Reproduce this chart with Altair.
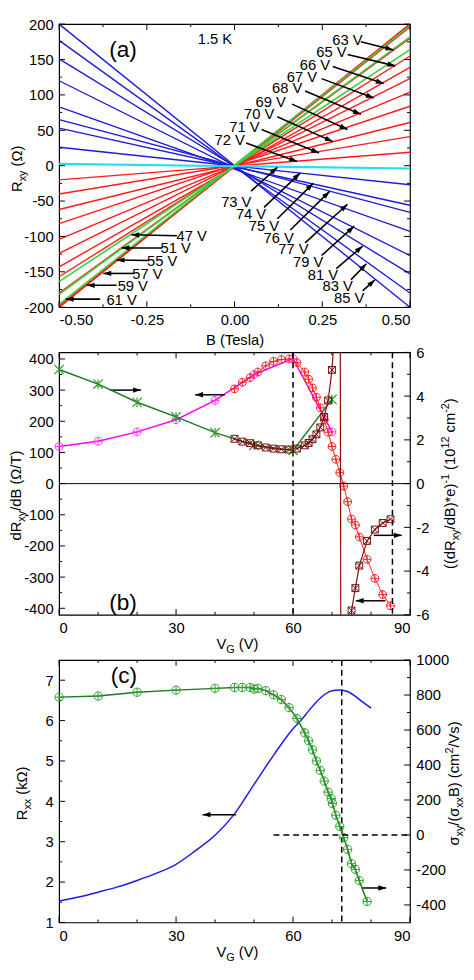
import math
import altair as alt
import pandas as pd

FONT = "Liberation Sans"
FS = 15
SM = 11
W = 357
HA, HB, HC = 288, 267, 267
SP = 46
TMAJ, TMIN = 6, 3
MINUS = "replace(datum.label, '\u2212', '-')"
ONE = pd.DataFrame({"k": [0]})

# ================= panel (a) data =================
a_volts = [47, 51, 55, 57, 59, 61, 63, 65, 66, 67, 68, 69, 70, 71, 72, 73, 74, 75, 76, 77, 79, 81, 83, 85]
a_kind = ["g", "g", "g", "r", "r", "r", "r", "r", "r", "r", "r", "r", "r", "r", "r",
          "c", "b", "b", "b", "b", "b", "b", "b", "b"]
a_r_neg = [-164, -182, -196, -200, -200, -198, -180, -157, -143, -124, -104, -82, -62, -40, -20,
           2.5, 26, 53, 65, 83, 120, 151, 177, 200]
a_r_pos = [164, 182, 198, 200, 200, 196, 180, 155, 139, 123, 104, 84, 61, 41, 19,
           -4, -27, -56, -66, -93, -127, -153, -180, -200]
a_b_ends = [-0.5, 0.5]

a_lab_text = ["63 V", "65 V", "66 V", "67 V", "68 V", "69 V", "70 V", "71 V", "72 V",
              "73 V", "74 V", "75 V", "76 V", "77 V", "79 V", "81 V", "83 V", "85 V",
              "47 V", "51 V", "55 V", "57 V", "59 V", "61 V"]
a_lab_b = [0.322, 0.276, 0.229, 0.192, 0.150, 0.103, 0.070, 0.028, -0.014,
           0.005, 0.047, 0.084, 0.126, 0.168, 0.210, 0.252, 0.294, 0.327,
           -0.122, -0.168, -0.206, -0.248, -0.290, -0.322]
a_lab_r = [178, 161, 142, 125, 109, 90, 73, 54.5, 36.4,
           -51, -69, -85.5, -102, -118, -136, -154.5, -170.5, -187,
           -100, -117, -135.5, -153.5, -170.5, -189.5]
a_arr_b0 = [0.360, 0.322, 0.280, 0.248, 0.201, 0.164, 0.122, 0.077, 0.033,
            0.047, 0.084, 0.122, 0.159, 0.201, 0.248, 0.290, 0.332, 0.365,
            -0.164, -0.206, -0.243, -0.285, -0.336, -0.383]
a_arr_r0 = [175, 157, 140, 123, 105.5, 87, 69, 51, 32,
            -36, -59, -75, -91, -109, -127, -145.5, -161, -177,
            -99, -116.4, -134, -152.3, -169, -188.6]
a_arr_b1 = [0.453, 0.458, 0.425, 0.397, 0.360, 0.322, 0.280, 0.241, 0.178,
            0.122, 0.187, 0.224, 0.271, 0.322, 0.341, 0.365, 0.376, 0.400,
            -0.294, -0.322, -0.336, -0.374, -0.421, -0.481]
a_arr_r1 = [163.6, 141, 116, 95.5, 72.7, 51, 34, 18, 6,
            -2.3, -10.5, -25, -36.4, -54.5, -85.5, -113.6, -138.6, -161.4,
            -97.7, -116.4, -133.2, -152.3, -169.1, -188.6]

a_xmaj = [-0.5, -0.25, 0, 0.25, 0.5]
a_xmin = [-0.375, -0.125, 0.125, 0.375]
a_ymaj = [-200, -150, -100, -50, 0, 50, 100, 150, 200]
a_ymin = [-175, -125, -75, -25, 25, 75, 125, 175]

# ================= panel (b) data =================
b_mag_v = [0, 10, 20, 30, 40, 50, 60, 70]
b_mag_l = [119, 136, 166, 205, 267, 350, 401, 166]

b_red_v = [45, 47, 49, 51, 53, 55, 57, 59, 61, 63, 64, 65, 66, 67, 68, 69, 70, 71, 72, 73,
           74, 75, 76, 77, 79, 81, 83, 85]
b_red_l = [304, 325, 340, 358, 378, 392, 398, 400, 388, 358, 335, 307, 277, 243, 205, 165, 119, 78, 35, -8,
           -58, -114, -133, -171, -243, -304, -356, -392]

b_sq_v = b_red_v
b_sq_n = [2.05, 1.92, 1.85, 1.75, 1.65, 1.6, 1.57, 1.56, 1.6, 1.75, 1.86, 2.03, 2.25, 2.57, 3.05, 3.8, 5.2,
          8.0, 17.8, -78, -10.8, -5.8, -4.78, -3.75, -2.62, -2.1, -1.8, -1.63]

b_gx_v = [0, 10, 20, 30, 40, 50, 60, 70]
b_gx_n = [5.22, 4.55, 3.72, 3.05, 2.33, 1.75, 1.52, 3.85]

b_dash_v = [60, 85.5]
b_arr_l = {"v0": [13.0, 42.5, 80.7, 83.7], "v1": [21.0, 34.9, 87.9, 76.1], "l": [300, 285, -166, -376]}

v_maj = [0, 30, 60, 90]
v_min = [10, 20, 40, 50, 70, 80]
b_lmaj = [-400, -300, -200, -100, 0, 100, 200, 300, 400]
b_lmin = [-350, -250, -150, -50, 50, 150, 250, 350]
b_rmaj = [-6, -4, -2, 0, 2, 4, 6]
b_rmin = [-5, -3, -1, 1, 3, 5]

# ================= panel (c) data =================
c_blue_v = [0, 5, 10, 15, 20, 25, 30, 35, 40, 45, 50, 55, 60, 62, 64, 66, 68, 70, 72, 74, 76, 78, 80]
c_blue_l = [1.53, 1.63, 1.75, 1.88, 2.04, 2.22, 2.44, 2.78, 3.16, 3.69, 4.42, 5.14, 5.8, 6.0, 6.24, 6.46,
            6.64, 6.74, 6.76, 6.72, 6.6, 6.45, 6.31]

c_grn_v = [0, 10, 20, 30, 40, 45, 47, 49, 50, 51, 53, 55, 57, 59, 61, 63, 64, 65, 66, 67, 68, 69,
           69.8, 70.1, 71, 72, 73, 74, 75, 76, 77, 79]
c_grn_r = [788, 794, 816, 828, 838, 843, 843, 843, 834, 838, 825, 801, 774, 728, 666, 584, 538, 487,
           423, 369, 308, 245, 208, 180, 113, 49, -15, -82, -164, -197, -261, -380]

c_vdash = [72.5]
c_hdash = {"v0": [55], "v1": [90], "r": [0]}
c_arr_left = {"v0": [45.4], "v1": [36.8], "l": [3.67]}
c_arr_right = {"v0": [77.8], "v1": [83.9], "r": [-303]}

c_lmaj = [1, 2, 3, 4, 5, 6, 7]
c_lmin = [1.5, 2.5, 3.5, 4.5, 5.5, 6.5]
c_rmaj = [-400, -200, 0, 200, 400, 600, 800, 1000]
c_rmin = [-300, -100, 100, 300, 500, 700, 900]

# ================= helpers =================
AW = {" ": 278, "(": 333, ")": 333, "*": 389, "-": 333, ".": 278, "/": 278, "B": 667, "G": 778,
      "K": 667, "R": 722, "T": 611, "V": 667, "c": 500, "d": 556, "e": 556, "k": 500, "m": 833,
      "s": 500, "x": 500, "y": 500, "\u03a9": 768, "\u03c3": 602}


def tw(s, fs):
    return sum(AW.get(ch, 556) for ch in s) * fs / 1000.0


def rich(pieces, cx, cy, vertical=False):
    sizes = [FS if k == "n" else SM for _, k in pieces]
    widths = [tw(t, s) for (t, _), s in zip(pieces, sizes)]
    pos = -sum(widths) / 2.0
    out = []
    for (t, k), s, w in zip(pieces, sizes, widths):
        lead = len(t) - len(t.lstrip(" "))
        p = pos + tw(" " * lead, s)
        shift = {"n": 0, "sub": 4, "sup": -6}[k]
        if vertical:
            x, y, ang = cx + shift, cy - p, 270
        else:
            x, y, ang = cx + p, cy + shift, 0
        out.append(alt.Chart(ONE).mark_text(text=t.strip(" "), font=FONT, fontSize=s, angle=ang,
                                            align="left", baseline="alphabetic", color="black")
                   .encode(x=alt.value(x), y=alt.value(y)))
        pos += w
    return out


class Enc:
    def __init__(self, xs, xax, ys, yax):
        self.xs, self.xax, self.ys, self.yax = xs, xax, ys, yax

    def X(self, f):
        return alt.X(f, type="quantitative", scale=self.xs, axis=self.xax)

    def Y(self, f):
        return alt.Y(f, type="quantitative", scale=self.ys, axis=self.yax)


def xticks(maj, mnr, e, H):
    out = []
    for vals, L in ((maj, TMAJ), (mnr, TMIN)):
        df = pd.DataFrame({"v": vals})
        out.append(alt.Chart(df).mark_rule(color="black", strokeWidth=1)
                   .encode(x=e.X("v"), y=alt.value(H), y2=alt.value(H - L)))
        out.append(alt.Chart(df).mark_rule(color="black", strokeWidth=1)
                   .encode(x=e.X("v"), y=alt.value(0), y2=alt.value(L)))
    return out


def yticks(maj, mnr, e, side):
    out = []
    for vals, L in ((maj, TMAJ), (mnr, TMIN)):
        df = pd.DataFrame({"v": vals})
        if side == "left":
            x0, x1 = 0, L
        else:
            x0, x1 = W, W - L
        out.append(alt.Chart(df).mark_rule(color="black", strokeWidth=1)
                   .encode(y=e.Y("v"), x=alt.value(x0), x2=alt.value(x1)))
    return out


HEAD = "M0,0L0.34,1L-0.34,1Z"
OPLUS = "M1,0A1,1,0,1,1,-1,0A1,1,0,1,1,1,0Z M-1,0L1,0 M0,-1L0,1"
OTIMES = "M-1,-1L1,-1L1,1L-1,1Z M-1,-1L1,1 M1,-1L-1,1"
STAR = "M-1,-1L1,1 M1,-1L-1,1 M0,-1L0,1"


def head_angle(x0, y0, x1, y1, sx, sy):
    dx = (x1 - x0) * sx
    dy = -(y1 - y0) * sy
    return math.degrees(math.atan2(dx, -dy)) % 360


# ================= panel (a) =================
xs_a = alt.Scale(domain=[-0.5, 0.5], nice=False, zero=False)
ys_a = alt.Scale(domain=[-200, 200], nice=False, zero=False)
ax_a_x = alt.Axis(values=a_xmaj, title="B (Tesla)", titlePadding=5,
                  labelExpr="replace(format(datum.value, '.2f'), '\u2212', '-')")
ax_a_y = alt.Axis(values=a_ymaj, title=None, labelExpr=MINUS)
ea = Enc(xs_a, ax_a_x, ys_a, ax_a_y)


def a_lines(kind):
    rows = []
    for v, k, l, r in zip(a_volts, a_kind, a_r_neg, a_r_pos):
        if k == kind:
            rows.append({"V": v, "B": a_b_ends[0], "R": l})
            rows.append({"V": v, "B": a_b_ends[1], "R": r})
    return pd.DataFrame(rows)


a_layers = []
for kind, col, sw in (("b", "#1c1cd8", 1.4), ("r", "#ff1a1a", 1.4), ("g", "#3ad13a", 1.6), ("c", "#22e0f0", 2.2)):
    a_layers.append(alt.Chart(a_lines(kind)).mark_line(color=col, strokeWidth=sw)
                    .encode(x=ea.X("B"), y=ea.Y("R"), detail="V:N"))

sxa, sya = W / 1.0, HA / 400.0
arr_a = pd.DataFrame({"b0": a_arr_b0, "r0": a_arr_r0, "b1": a_arr_b1, "r1": a_arr_r1})
arr_a["ang"] = [head_angle(a, b, c, d, sxa, sya) for a, b, c, d in zip(a_arr_b0, a_arr_r0, a_arr_b1, a_arr_r1)]
a_layers.append(alt.Chart(arr_a).mark_rule(color="black", strokeWidth=1.6)
                .encode(x=ea.X("b0"), y=ea.Y("r0"), x2="b1", y2="r1"))
a_layers.append(alt.Chart(arr_a).mark_point(shape=HEAD, filled=True, size=256, color="black", opacity=1, strokeWidth=0)
                .encode(x=ea.X("b1"), y=ea.Y("r1"), angle=alt.Angle("ang:Q", scale=None)))
lab_a = pd.DataFrame({"t": a_lab_text, "b": a_lab_b, "r": a_lab_r})
a_layers.append(alt.Chart(lab_a).mark_text(font=FONT, fontSize=FS, color="black", align="center", baseline="middle")
                .encode(x=ea.X("b"), y=ea.Y("r"), text="t:N"))
tag_a = pd.DataFrame({"t": ["(a)"], "b": [-0.318], "r": [163.6]})
a_layers.append(alt.Chart(tag_a).mark_text(font=FONT, fontSize=23, color="black", align="center", baseline="middle")
                .encode(x=ea.X("b"), y=ea.Y("r"), text="t:N"))
temp_a = pd.DataFrame({"t": ["1.5 K"], "b": [-0.056], "r": [178.2]})
a_layers.append(alt.Chart(temp_a).mark_text(font=FONT, fontSize=FS, color="black", align="center", baseline="middle")
                .encode(x=ea.X("b"), y=ea.Y("r"), text="t:N"))
a_layers += xticks(a_xmaj, a_xmin, ea, HA)
a_layers += yticks(a_ymaj, a_ymin, ea, "left")
a_layers += yticks(a_ymaj, a_ymin, ea, "right")
a_layers += rich([("R", "n"), ("xy", "sub"), (" (\u03a9)", "n")], -37.5, HA / 2 + 3, vertical=True)

pa = alt.layer(*a_layers).properties(width=W, height=HA)

# ================= panel (b) =================
xs_v = alt.Scale(domain=[0, 90], nice=False, zero=False)
ys_bl = alt.Scale(domain=[-421, 421], nice=False, zero=False)
ys_br = alt.Scale(domain=[-6, 6], nice=False, zero=False)
ax_v = alt.Axis(values=v_maj, title=None, labelExpr=MINUS)
ax_bl = alt.Axis(values=b_lmaj, title=None, labelExpr=MINUS)
ax_br = alt.Axis(values=b_rmaj, title=None, orient="right", labelExpr=MINUS)
ebl = Enc(xs_v, ax_v, ys_bl, ax_bl)
ebr = Enc(xs_v, ax_v, ys_br, ax_br)

mag = pd.DataFrame({"V": b_mag_v, "L": b_mag_l})
red = pd.DataFrame({"V": b_red_v, "L": b_red_l})
sq = pd.DataFrame({"V": b_sq_v, "N": b_sq_n})
gx = pd.DataFrame({"V": b_gx_v, "N": b_gx_n})

bl = []
bl.append(alt.Chart(red).mark_line(color="#ff2020", strokeWidth=1)
          .encode(x=ebl.X("V"), y=ebl.Y("L")))
bl.append(alt.Chart(mag).mark_line(color="#ff00ff", strokeWidth=1.5)
          .encode(x=ebl.X("V"), y=ebl.Y("L")))
bl.append(alt.Chart(mag).mark_point(shape=OPLUS, filled=False, size=64, color="#ff33ff", strokeWidth=1, opacity=1)
          .encode(x=ebl.X("V"), y=ebl.Y("L")))
bl.append(alt.Chart(red).mark_point(shape=OPLUS, filled=False, size=64, color="#ff2020", strokeWidth=1, opacity=1)
          .encode(x=ebl.X("V"), y=ebl.Y("L")))
bl.append(alt.Chart(pd.DataFrame({"y": [0]})).mark_rule(color="black", strokeWidth=1)
          .encode(y=ebl.Y("y")))
bl.append(alt.Chart(pd.DataFrame({"V": b_dash_v})).mark_rule(color="black", strokeWidth=1.5, strokeDash=[6, 4])
          .encode(x=ebl.X("V")))
arr_b = pd.DataFrame(b_arr_l)
arr_b["ang"] = [90 if b > a else 270 for a, b in zip(b_arr_l["v0"], b_arr_l["v1"])]
bl.append(alt.Chart(arr_b).mark_rule(color="black", strokeWidth=1.5)
          .encode(x=ebl.X("v0"), x2="v1", y=ebl.Y("l")))
bl.append(alt.Chart(arr_b).mark_point(shape=HEAD, filled=True, size=256, color="black", opacity=1, strokeWidth=0)
          .encode(x=ebl.X("v1"), y=ebl.Y("l"), angle=alt.Angle("ang:Q", scale=None)))
bl.append(alt.Chart(pd.DataFrame({"t": ["(b)"], "v": [16.4], "l": [-382]}))
          .mark_text(font=FONT, fontSize=23, color="black", align="center", baseline="middle")
          .encode(x=ebl.X("v"), y=ebl.Y("l"), text="t:N"))
bl += xticks(v_maj, v_min, ebl, HB)
bl += yticks(b_lmaj, b_lmin, ebl, "left")
bl += rich([("dR", "n"), ("xy", "sub"), ("/dB (\u03a9/T)", "n")], -39, HB / 2 + 12, vertical=True)
bl += rich([("((dR", "n"), ("xy", "sub"), ("/dB)*e)", "n"), ("-1", "sup"), (" (10", "n"), ("12", "sup"),
            (" cm", "n"), ("-2", "sup"), (")", "n")], W + 46, HB / 2, vertical=True)
bl += rich([("V", "n"), ("G", "sub"), (" (V)", "n")], W / 2 + 3, HB + 35)

br = []
br.append(alt.Chart(gx).mark_line(color="#1f7a1f", strokeWidth=1.5)
          .encode(x=ebr.X("V"), y=ebr.Y("N")))
br.append(alt.Chart(sq).mark_line(color="#8b0a0a", strokeWidth=1.2, clip=True)
          .encode(x=ebr.X("V"), y=ebr.Y("N")))
br.append(alt.Chart(gx).mark_point(shape=STAR, filled=False, size=90, color="#2f9a2f", strokeWidth=1.2, opacity=1)
          .encode(x=ebr.X("V"), y=ebr.Y("N")))
br.append(alt.Chart(sq).mark_point(shape=OTIMES, filled=False, size=49, color="#6b1010", strokeWidth=1, opacity=1, clip=True)
          .encode(x=ebr.X("V"), y=ebr.Y("N")))
br += yticks(b_rmaj, b_rmin, ebr, "right")

pb = alt.layer(alt.layer(*bl), alt.layer(*br)).resolve_scale(y="independent").properties(width=W, height=HB)

# ================= panel (c) =================
ys_cl = alt.Scale(domain=[1, 7.5], nice=False, zero=False)
ys_cr = alt.Scale(domain=[-500, 1000], nice=False, zero=False)
ax_cl = alt.Axis(values=c_lmaj, title=None, labelExpr=MINUS)
ax_cr = alt.Axis(values=c_rmaj, title=None, orient="right", labelExpr="'' + datum.value")
ecl = Enc(xs_v, ax_v, ys_cl, ax_cl)
ecr = Enc(xs_v, ax_v, ys_cr, ax_cr)

blue = pd.DataFrame({"V": c_blue_v, "L": c_blue_l})
grn = pd.DataFrame({"V": c_grn_v, "R": c_grn_r})

cl = []
cl.append(alt.Chart(blue).mark_line(color="#1a1aee", strokeWidth=1.5, interpolate="monotone")
          .encode(x=ecl.X("V"), y=ecl.Y("L")))
cl.append(alt.Chart(pd.DataFrame({"V": c_vdash})).mark_rule(color="black", strokeWidth=1.5, strokeDash=[6, 4])
          .encode(x=ecl.X("V")))
arr_cl = pd.DataFrame(c_arr_left)
cl.append(alt.Chart(arr_cl).mark_rule(color="black", strokeWidth=1.5)
          .encode(x=ecl.X("v0"), x2="v1", y=ecl.Y("l")))
cl.append(alt.Chart(arr_cl).mark_point(shape=HEAD, filled=True, size=256, color="black", opacity=1, strokeWidth=0, angle=270)
          .encode(x=ecl.X("v1"), y=ecl.Y("l")))
cl.append(alt.Chart(pd.DataFrame({"t": ["(c)"], "v": [16.6], "l": [7.1]}))
          .mark_text(font=FONT, fontSize=23, color="black", align="center", baseline="middle")
          .encode(x=ecl.X("v"), y=ecl.Y("l"), text="t:N"))
cl += xticks(v_maj, v_min, ecl, HC)
cl += yticks(c_lmaj, c_lmin, ecl, "left")
cl += rich([("R", "n"), ("xx", "sub"), (" (k\u03a9)", "n")], -32.5, HC / 2 + 2, vertical=True)
cl += rich([("\u03c3", "n"), ("xy", "sub"), ("/(\u03c3", "n"), ("xx", "sub"), ("B) (cm", "n"), ("2", "sup"),
            ("/Vs)", "n")], W + 50, HC / 2 - 8, vertical=True)
cl += rich([("V", "n"), ("G", "sub"), (" (V)", "n")], W / 2 + 3, HC + 35)

cr = []
cr.append(alt.Chart(grn).mark_line(color="#1e7b1e", strokeWidth=1.5)
          .encode(x=ecr.X("V"), y=ecr.Y("R")))
cr.append(alt.Chart(grn).mark_point(shape=OPLUS, filled=False, size=72, color="#2ea02e", strokeWidth=1, opacity=1)
          .encode(x=ecr.X("V"), y=ecr.Y("R")))
cr.append(alt.Chart(pd.DataFrame(c_hdash)).mark_rule(color="black", strokeWidth=1.5, strokeDash=[6, 4])
          .encode(x=ecr.X("v0"), x2="v1", y=ecr.Y("r")))
arr_cr = pd.DataFrame(c_arr_right)
cr.append(alt.Chart(arr_cr).mark_rule(color="black", strokeWidth=1.5)
          .encode(x=ecr.X("v0"), x2="v1", y=ecr.Y("r")))
cr.append(alt.Chart(arr_cr).mark_point(shape=HEAD, filled=True, size=256, color="black", opacity=1, strokeWidth=0, angle=90)
          .encode(x=ecr.X("v1"), y=ecr.Y("r")))
cr += yticks(c_rmaj, c_rmin, ecr, "right")

pc = alt.layer(alt.layer(*cl), alt.layer(*cr)).resolve_scale(y="independent").properties(width=W, height=HC)

chart = (alt.vconcat(pa, pb, pc, spacing=SP, bounds="flush")
         .properties(padding={"left": 0, "top": 0, "right": 0, "bottom": 0})
         .configure_view(stroke="black", strokeWidth=1.2)
         .configure_axis(labelFont=FONT, labelFontSize=FS, labelColor="black", titleFont=FONT,
                         titleFontSize=FS, titleFontWeight="normal", titleColor="black",
                         ticks=False, tickSize=0, domain=False, grid=False, labelPadding=6))

chart.save("out.html", embed_options={"renderer": "svg", "actions": False})
